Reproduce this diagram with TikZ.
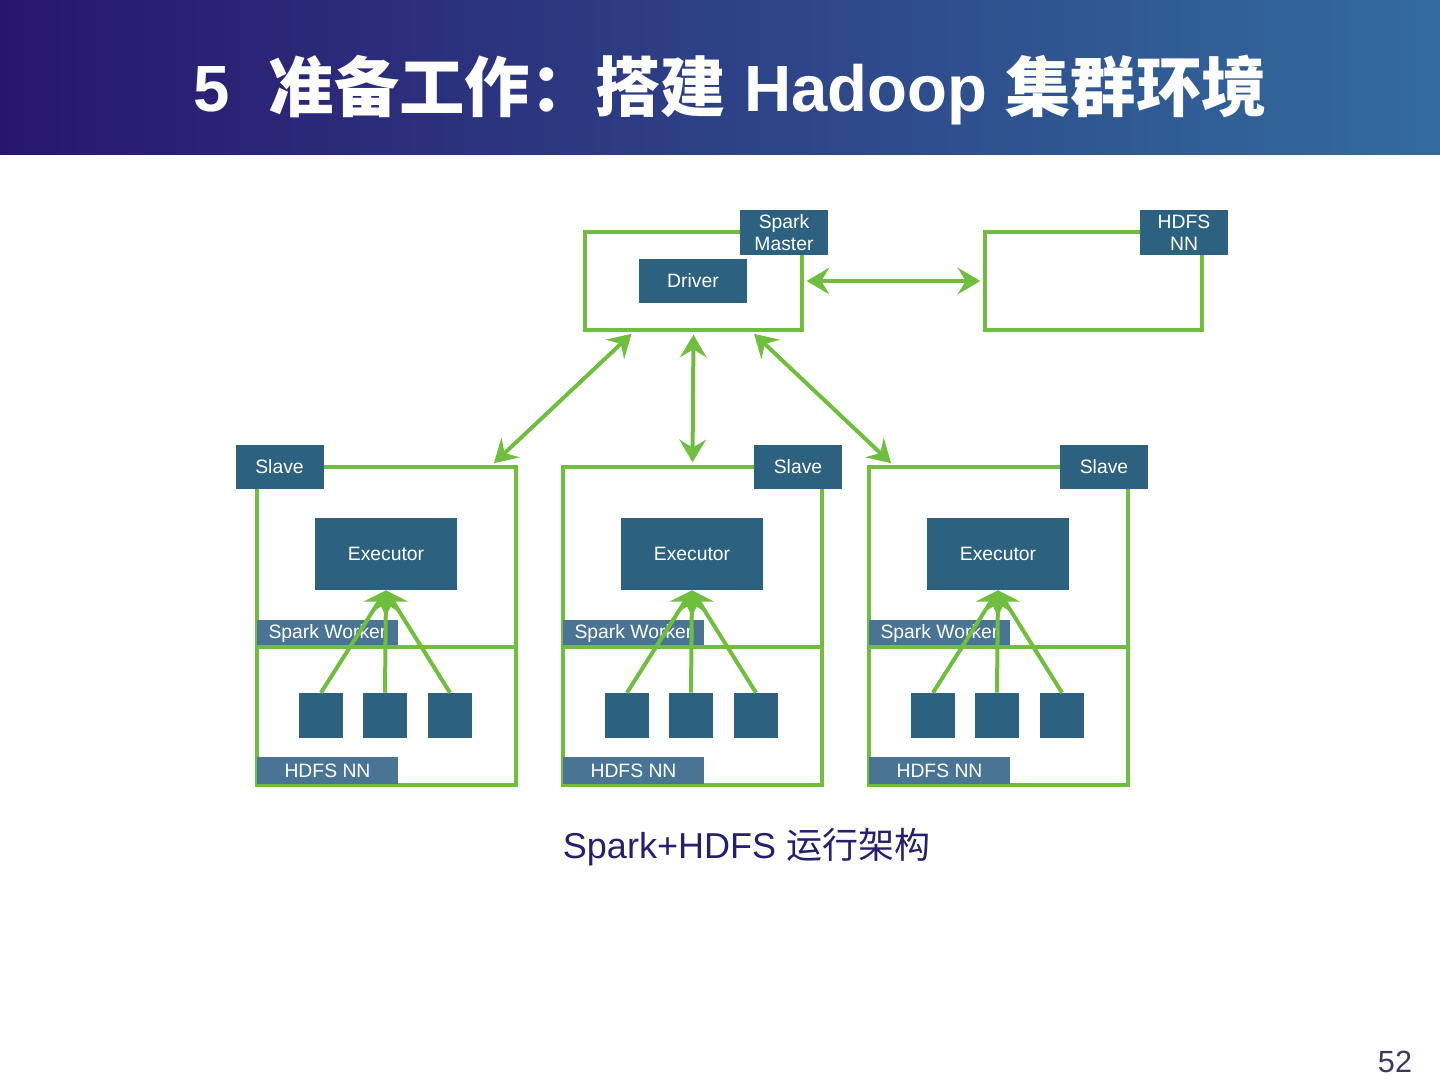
\documentclass[tikz,border=0pt]{standalone}
\usepackage{fontspec}
\setmainfont{Liberation Sans}
\newfontfamily\cjk{Noto Sans CJK SC}
\usepackage{tikz}
\usetikzlibrary{arrows.meta, calc, positioning}
\definecolor{spgreen}{RGB}{112, 190, 62}
\definecolor{spteal}{RGB}{45, 97, 128}
\definecolor{splight}{RGB}{73, 116, 147}
\definecolor{hdleft}{RGB}{40, 22, 110}
\definecolor{hdright}{RGB}{50, 108, 158}
\definecolor{capnavy}{RGB}{40, 30, 110}
\definecolor{pagegray}{RGB}{55, 60, 90}

\begin{document}
\begin{tikzpicture}[x=0.75pt, y=-0.75pt,
		grpline/.style={draw=spgreen, line width=3pt},
		topgrp/.style={grpline, inner sep=0pt, minimum width=217*0.75pt, minimum height=98*0.75pt},
		slavegrp/.style={grpline, inner sep=0pt, minimum width=259*0.75pt, minimum height=318*0.75pt},
		darkbox/.style={fill=spteal, text=white, inner sep=0pt, align=center, font=\fontsize{14.5}{16.5}\selectfont},
		tagbox/.style={darkbox, minimum width=88*0.75pt, minimum height=45*0.75pt},
		wkbox/.style={darkbox, fill=splight, minimum width=141*0.75pt, minimum height=27*0.75pt},
		exbox/.style={darkbox, minimum width=142*0.75pt, minimum height=72*0.75pt},
		blk/.style={fill=spteal, minimum width=44*0.75pt, minimum height=45*0.75pt, inner sep=0pt},
		link/.style={spgreen, line width=3pt, {Stealth[length=17pt, width=20pt, inset=6pt]}-{Stealth[length=17pt, width=20pt, inset=6pt]}, shorten <=2pt, shorten >=2pt},
		up/.style={spgreen, line width=3pt, -{Stealth[length=16pt, width=19pt, inset=6pt]}}
	]
	\useasboundingbox (0,0) rectangle (1440,1080);
	
	% header band
	\shade[left color=hdleft, right color=hdright] (0,0) rectangle (1440,155);
	\node[text=white, font=\fontsize{49}{56}\selectfont\bfseries] (title) at (730,90)
		{5\hspace{0.6em}{\cjk 准备工作：搭建} Hadoop {\cjk 集群环境}};
	
	% master and name node
	\node[topgrp] (master) at (693.5,281) {};
	\node[topgrp] (hdfs) at (1093.5,281) {};
	\node[tagbox] (sm) at (784,232.5) {Spark\\Master};
	\node[tagbox] (hn) at (1184,232.5) {HDFS\\NN};
	\node[darkbox, minimum width=108*0.75pt, minimum height=44*0.75pt] (driver) at (693,281) {Driver};
	
	% slaves
	\foreach \i/\dx/\tx in {1/0/279.5, 2/306/798, 3/612/1104} {
		\node[slavegrp] (sl\i) at (386.5+\dx,626) {};
		\node[wkbox] (wk\i) at (327.5+\dx,633.5) {Spark Worker};
		\draw[grpline] (wk\i.south west) -- (wk\i.south west -| sl\i.east);
		\node[wkbox] (nn\i) at (327.5+\dx,770.5) {HDFS NN};
		\node[tagbox, minimum height=44*0.75pt] (sv\i) at (\tx,467) {Slave};
		\node[exbox] (ex\i) at (386+\dx,554) {Executor};
		\node[blk] (bl\i a) at (321+\dx,715.5) {};
		\node[blk] (bl\i b) at (385+\dx,715.5) {};
		\node[blk] (bl\i c) at (450+\dx,715.5) {};
		\foreach \j in {a,b,c}
			\draw[up] (bl\i\j.north) -- (ex\i.south);
	}
	
	% links
	\draw[link] (master.east) -- (hdfs.west);
	\draw[link] ([xshift=-45pt]master.south) -- ([xshift=-19.5pt]sl1.north east);
	\draw[link] (master.south) -- (sl2.north);
	\draw[link] ([xshift=44pt]master.south) -- ([xshift=19.5pt]sl3.north west);
	
	% caption and page
	\node[text=capnavy, font=\fontsize{27}{30}\selectfont] (cap) at (746.5,847) {Spark+HDFS {\cjk 运行架构}};
	\node[text=pagegray, font=\fontsize{23}{26}\selectfont] (page) at (1395,1062) {52};
\end{tikzpicture}
\end{document}
